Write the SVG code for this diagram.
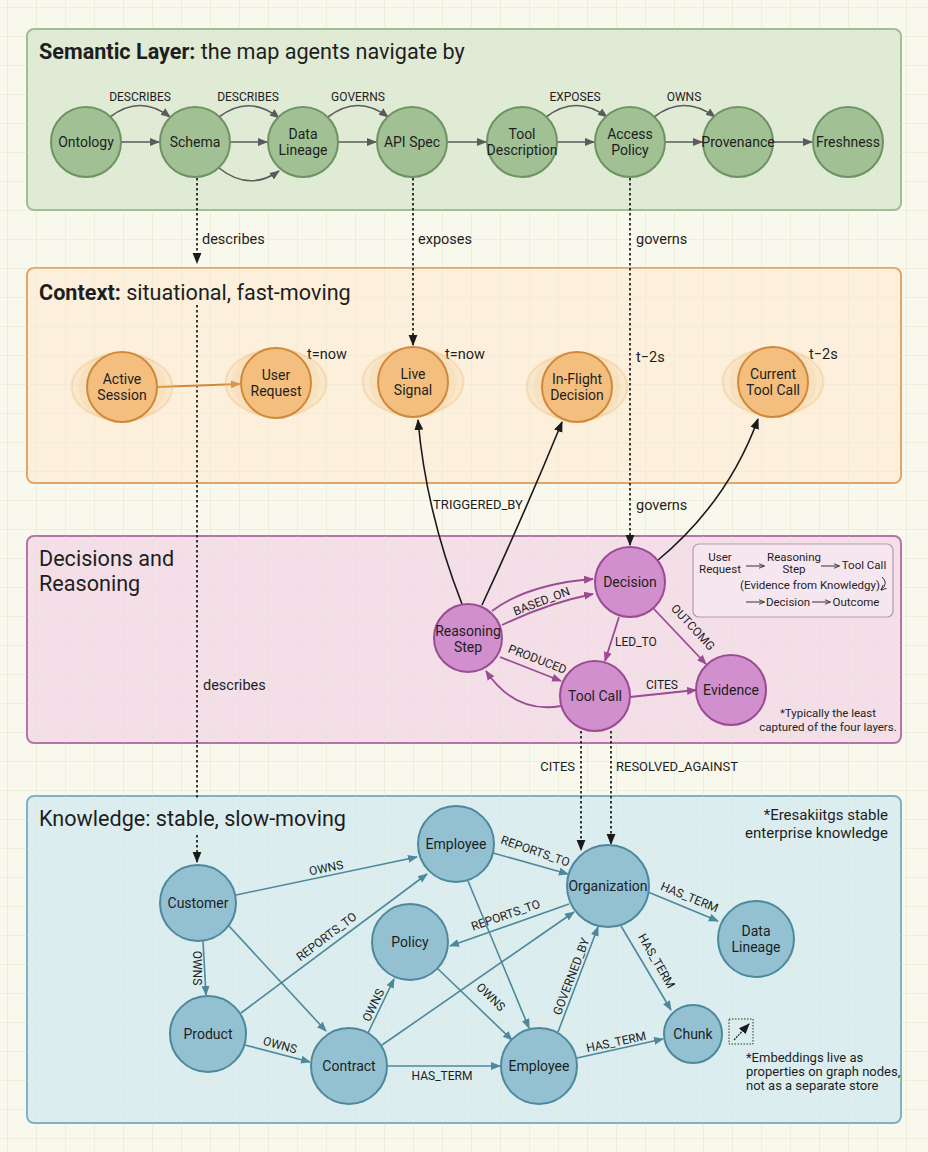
<svg xmlns="http://www.w3.org/2000/svg" width="928" height="1152" viewBox="0 0 928 1152">
<defs>
<pattern id="grid" width="29" height="29" patternUnits="userSpaceOnUse" x="7" y="7">
<path d="M29,0 L0,0 L0,29" fill="none" stroke="#e4e3cf" stroke-width="1"/>
</pattern>
<marker id="ag" viewBox="0 0 10 10" refX="9" refY="5" markerWidth="10" markerHeight="10" markerUnits="userSpaceOnUse" orient="auto"><path d="M0,1 L10,5 L0,9 z" fill="#5b5b5b"/></marker>
<marker id="ao" viewBox="0 0 10 10" refX="9" refY="5" markerWidth="10" markerHeight="10" markerUnits="userSpaceOnUse" orient="auto"><path d="M0,1 L10,5 L0,9 z" fill="#d2893a"/></marker>
<marker id="ak" viewBox="0 0 10 10" refX="9" refY="5" markerWidth="11" markerHeight="11" markerUnits="userSpaceOnUse" orient="auto"><path d="M0,1 L10,5 L0,9 z" fill="#1a1a1a"/></marker>
<marker id="ap" viewBox="0 0 10 10" refX="9" refY="5" markerWidth="10" markerHeight="10" markerUnits="userSpaceOnUse" orient="auto"><path d="M0,1 L10,5 L0,9 z" fill="#9a4b93"/></marker>
<marker id="ab" viewBox="0 0 10 10" refX="9" refY="5" markerWidth="10" markerHeight="10" markerUnits="userSpaceOnUse" orient="auto"><path d="M0,1 L10,5 L0,9 z" fill="#4e889d"/></marker>
<marker id="al" viewBox="0 0 10 10" refX="9" refY="5" markerWidth="6" markerHeight="6" markerUnits="userSpaceOnUse" orient="auto"><path d="M0,1 L10,5 L0,9" fill="none" stroke="#333" stroke-width="1.5"/></marker>
</defs>
<style>
text{font-family:Roboto,"Liberation Sans",sans-serif;fill:#1e1e1e}
.title{font-size:21.6px}
.b{font-weight:bold}
.nl{font-size:14px;text-anchor:middle}
.el{font-size:12px;text-anchor:middle}
.xl{font-size:13px}
.note{font-size:14.5px}
.lg{font-size:11.5px;text-anchor:middle}
.gn{fill:#a1c194;stroke:#6f9264;stroke-width:2}
.on{fill:#f4bf7e;stroke:#cf893b;stroke-width:2}
.pn{fill:#d28fcd;stroke:#9a4b93;stroke-width:2}
.bn{fill:#93c1d2;stroke:#4e889d;stroke-width:2}
.halo{fill:#f4bf7e;opacity:0.16}
.halo2{fill:none;stroke:#f0b878;stroke-width:1.5;opacity:0.35}
.eg{fill:none;stroke:#5b5b5b;stroke-width:1.6;marker-end:url(#ag)}
.eo{fill:none;stroke:#d2893a;stroke-width:1.8;marker-end:url(#ao)}
.ek{fill:none;stroke:#1a1a1a;stroke-width:1.6;marker-end:url(#ak)}
.ed{fill:none;stroke:#1a1a1a;stroke-width:1.7;stroke-dasharray:2.5 2.5}
.edm{marker-end:url(#ak)}
.ep{fill:none;stroke:#9a4b93;stroke-width:1.8;marker-end:url(#ap)}
.eb{fill:none;stroke:#4e889d;stroke-width:1.6;marker-end:url(#ab)}
.la{fill:none;stroke:#333;stroke-width:1;marker-end:url(#al)}
</style>
<rect width="928" height="1152" fill="#f9f8ec"/>
<rect width="928" height="1152" fill="url(#grid)"/>

<g id="panels">
<rect x="27" y="29" width="874" height="181" rx="7" fill="#dce8d1" fill-opacity="0.88" stroke="#9fbf92" stroke-width="2"/>
<rect x="27" y="268" width="874" height="215" rx="7" fill="#fdeed9" fill-opacity="0.85" stroke="#e3a565" stroke-width="2"/>
<rect x="27" y="536" width="874" height="207" rx="7" fill="#f3d9e8" fill-opacity="0.85" stroke="#b673a8" stroke-width="2"/>
<rect x="27" y="796" width="874" height="327" rx="7" fill="#d6ebee" fill-opacity="0.85" stroke="#7eb1c1" stroke-width="2"/>
<rect x="27" y="29" width="874" height="181" rx="7" fill="url(#grid)" opacity="0.6"/>
<rect x="27" y="268" width="874" height="215" rx="7" fill="url(#grid)" opacity="0.6"/>
<rect x="27" y="536" width="874" height="207" rx="7" fill="url(#grid)" opacity="0.6"/>
<rect x="27" y="796" width="874" height="327" rx="7" fill="url(#grid)" opacity="0.6"/>
<text class="title" x="39" y="59"><tspan class="b">Semantic Layer:</tspan> the map agents navigate by</text>
<text class="title" x="39" y="300"><tspan class="b">Context:</tspan> situational, fast-moving</text>
<text class="title" x="39" y="566">Decisions and</text>
<text class="title" x="39" y="591">Reasoning</text>
<text class="title" x="39" y="826">Knowledge: stable, slow-moving</text>
</g>

<g id="connectors">
<!-- semantic -->
<path class="eg" d="M121,142 L159,142"/>
<path class="eg" d="M230,142 L267,142"/>
<path class="eg" d="M338,142 L376,142"/>
<path class="eg" d="M447,142 L486,142"/>
<path class="eg" d="M557,142 L594,142"/>
<path class="eg" d="M665,142 L702,142"/>
<path class="eg" d="M773,142 L812,142"/>
<path class="eg" d="M110,117 Q140,94 170,117"/>
<path class="eg" d="M219,117 Q249,94 279,118"/>
<path class="eg" d="M328,117 Q358,94 388,117"/>
<path class="eg" d="M546,117 Q576,94 607,117"/>
<path class="eg" d="M654,117 Q684,94 715,117"/>
<path class="eg" d="M219,168 Q249,192 279,171"/>
<text class="el" x="140" y="101">DESCRIBES</text>
<text class="el" x="248" y="101">DESCRIBES</text>
<text class="el" x="358" y="101">GOVERNS</text>
<text class="el" x="575" y="101">EXPOSES</text>
<text class="el" x="684" y="101">OWNS</text>

<!-- dotted cross-layer -->
<path class="ed edm" d="M197,178 L197,263"/>
<path class="ed" d="M197,305 L197,800"/>
<path class="ed edm" d="M197,835 L197,862"/>
<path class="ed edm" d="M413,178 L413,345"/>
<path class="ed edm" d="M630,178 L630,545"/>
<path class="ed edm" d="M581,731 L581,850"/>
<path class="ed edm" d="M611,731 L611,844"/>
<text class="note" x="202" y="244">describes</text>
<text class="note" x="418" y="244">exposes</text>
<text class="note" x="636" y="244">governs</text>
<text class="note" x="636" y="362">t−2s</text>
<text class="note" x="636" y="510">governs</text>
<text class="note" x="203" y="690">describes</text>
<text class="xl" x="575" y="771" style="text-anchor:end">CITES</text>
<text class="xl" x="616" y="771" style="text-anchor:start">RESOLVED_AGAINST</text>

<!-- context -->
<path class="eo" d="M157,387 L240,384"/>
<text class="note" x="307" y="359">t=now</text>
<text class="note" x="445" y="359">t=now</text>
<text class="note" x="809" y="359">t−2s</text>

<!-- decisions to context -->
<path class="ek" d="M462,604 Q426,512 418,420"/>
<path class="ek" d="M482,605 Q526,510 562,422"/>
<path class="ek" d="M657,561 Q728,502 758,419"/>
<text class="xl" x="478" y="509" style="text-anchor:middle">TRIGGERED_BY</text>

<!-- decisions -->
<path class="ep" d="M492,611 Q528,584 593,579"/>
<path class="ep" d="M502,625 Q548,603 593,594"/>
<text class="el" transform="translate(543,605) rotate(-21)">BASED_ON</text>
<path class="ep" d="M500,657 L561,681"/>
<text class="el" transform="translate(536,663) rotate(21)">PRODUCED</text>
<path class="ep" d="M561,706 Q515,714 486,671"/>
<path class="ep" d="M619,617 L605,661"/>
<text class="el" x="615" y="646" style="text-anchor:start">LED_TO</text>
<path class="ep" d="M653,608 L706,664"/>
<text class="el" transform="translate(690,630) rotate(47)">OUTCOMG</text>
<path class="ep" d="M630,697 L696,690"/>
<text class="el" x="662" y="689">CITES</text>

<!-- knowledge -->
<path class="eb" d="M236,895 L417,857"/>
<text class="el" transform="translate(327,872) rotate(-12)">OWNS</text>
<path class="eb" d="M203,941 L206,995"/>
<text class="el" transform="translate(193,968) rotate(90)">OWNS</text>
<path class="eb" d="M229,926 L326,1031"/>
<path class="eb" d="M241,1013 L427,874"/>
<text class="el" transform="translate(329,940) rotate(-37)">REPORTS_TO</text>
<path class="eb" d="M245,1045 L310,1062"/>
<text class="el" transform="translate(279,1049) rotate(15)">OWNS</text>
<path class="eb" d="M368,1033 L394,979"/>
<text class="el" transform="translate(377,1007) rotate(-64)">OWNS</text>
<path class="eb" d="M382,1045 L574,912"/>
<path class="eb" d="M387,1066 L500,1066"/>
<text class="el" x="442" y="1080">HAS_TERM</text>
<path class="eb" d="M493,853 L568,874"/>
<text class="el" transform="translate(534,855) rotate(19)">REPORTS_TO</text>
<path class="eb" d="M569,904 L450,946"/>
<text class="el" transform="translate(507,919) rotate(-19)">REPORTS_TO</text>
<path class="eb" d="M468,881 L529,1028"/>
<path class="eb" d="M437,968 L512,1040"/>
<text class="el" transform="translate(488,1000) rotate(44)">OWNS</text>
<path class="eb" d="M558,1032 L598,927"/>
<text class="el" transform="translate(575,978) rotate(-69)">GOVERNED_BY</text>
<path class="eb" d="M648,892 L718,921"/>
<text class="el" transform="translate(688,901) rotate(22)">HAS_TERM</text>
<path class="eb" d="M621,926 L671,1010"/>
<text class="el" transform="translate(653,963) rotate(60)">HAS_TERM</text>
<path class="eb" d="M577,1058 L663,1039"/>
<text class="el" transform="translate(617,1046) rotate(-12)">HAS_TERM</text>
</g>

<!-- semantic nodes -->
<g id="n-ontology"><circle class="gn" cx="86" cy="142" r="35"/><text class="nl" x="86" y="147">Ontology</text></g>
<g id="n-schema"><circle class="gn" cx="195" cy="142" r="35"/><text class="nl" x="195" y="147">Schema</text></g>
<g id="n-datalineage"><circle class="gn" cx="303" cy="142" r="35"/><text class="nl" x="303" y="139">Data</text><text class="nl" x="303" y="155">Lineage</text></g>
<g id="n-apispec"><circle class="gn" cx="412" cy="142" r="35"/><text class="nl" x="412" y="147">API Spec</text></g>
<g id="n-tooldesc"><circle class="gn" cx="522" cy="142" r="35"/><text class="nl" x="522" y="139">Tool</text><text class="nl" x="522" y="155">Description</text></g>
<g id="n-accesspolicy"><circle class="gn" cx="630" cy="142" r="35"/><text class="nl" x="630" y="139">Access</text><text class="nl" x="630" y="155">Policy</text></g>
<g id="n-provenance"><circle class="gn" cx="738" cy="142" r="35"/><text class="nl" x="738" y="147">Provenance</text></g>
<g id="n-freshness"><circle class="gn" cx="848" cy="142" r="35"/><text class="nl" x="848" y="147">Freshness</text></g>

<!-- context nodes -->
<g id="n-activesession"><ellipse class="halo" cx="122" cy="387" rx="52" ry="35"/><ellipse class="halo" cx="122" cy="387" rx="44" ry="36"/><ellipse class="halo2" cx="122" cy="387" rx="50" ry="33"/><circle class="on" cx="122" cy="387" r="35"/><text class="nl" x="122" y="384">Active</text><text class="nl" x="122" y="400">Session</text></g>
<g id="n-userrequest"><ellipse class="halo" cx="276" cy="383" rx="52" ry="35"/><ellipse class="halo" cx="276" cy="383" rx="44" ry="36"/><ellipse class="halo2" cx="276" cy="383" rx="50" ry="33"/><circle class="on" cx="276" cy="383" r="35"/><text class="nl" x="276" y="380">User</text><text class="nl" x="276" y="396">Request</text></g>
<g id="n-livesignal"><ellipse class="halo" cx="413" cy="382" rx="52" ry="35"/><ellipse class="halo" cx="413" cy="382" rx="44" ry="36"/><ellipse class="halo2" cx="413" cy="382" rx="50" ry="33"/><circle class="on" cx="413" cy="382" r="35"/><text class="nl" x="413" y="379">Live</text><text class="nl" x="413" y="395">Signal</text></g>
<g id="n-inflight"><ellipse class="halo" cx="577" cy="387" rx="52" ry="35"/><ellipse class="halo" cx="577" cy="387" rx="44" ry="36"/><ellipse class="halo2" cx="577" cy="387" rx="50" ry="33"/><circle class="on" cx="577" cy="387" r="35"/><text class="nl" x="577" y="384">In-Flight</text><text class="nl" x="577" y="400">Decision</text></g>
<g id="n-currenttool"><ellipse class="halo" cx="773" cy="382" rx="52" ry="35"/><ellipse class="halo" cx="773" cy="382" rx="44" ry="36"/><ellipse class="halo2" cx="773" cy="382" rx="50" ry="33"/><circle class="on" cx="773" cy="382" r="35"/><text class="nl" x="773" y="379">Current</text><text class="nl" x="773" y="395">Tool Call</text></g>

<!-- decision nodes -->
<g id="n-reasoning"><circle class="pn" cx="468" cy="638" r="34"/><text class="nl" x="468" y="636">Reasoning</text><text class="nl" x="468" y="652">Step</text></g>
<g id="n-decision"><circle class="pn" cx="630" cy="582" r="35"/><text class="nl" x="630" y="587">Decision</text></g>
<g id="n-toolcall"><circle class="pn" cx="595" cy="696" r="35"/><text class="nl" x="595" y="701">Tool Call</text></g>
<g id="n-evidence"><circle class="pn" cx="731" cy="690" r="35"/><text class="nl" x="731" y="695">Evidence</text></g>

<g id="legend">
<rect x="693" y="544" width="200" height="73" rx="6" fill="#f6e6f0" stroke="#b39bad" stroke-width="1.2"/>
<text class="lg" x="720" y="561">User</text>
<text class="lg" x="720" y="573">Request</text>
<path class="la" d="M746,566 L764,566"/>
<text class="lg" x="794" y="561">Reasoning</text>
<text class="lg" x="794" y="573">Step</text>
<path class="la" d="M821,566 L839,566"/>
<text class="lg" x="864" y="569">Tool Call</text>
<text class="lg" x="810" y="589">(Evidence from Knowledgy)</text>
<path class="la" d="M882,577 Q889,583 881,590"/>
<path class="la" d="M746,602 L764,602"/>
<text class="lg" x="788" y="606">Decision</text>
<path class="la" d="M812,602 L830,602"/>
<text class="lg" x="856" y="606">Outcome</text>
</g>
<text class="lg" x="828" y="717">*Typically the least</text>
<text class="lg" x="828" y="731">captured of the four layers.</text>

<!-- knowledge nodes -->
<g id="n-customer"><circle class="bn" cx="198" cy="903" r="38"/><text class="nl" x="198" y="908">Customer</text></g>
<g id="n-employee1"><circle class="bn" cx="456" cy="844" r="38"/><text class="nl" x="456" y="849">Employee</text></g>
<g id="n-organization"><circle class="bn" cx="608" cy="886" r="41"/><text class="nl" x="608" y="891">Organization</text></g>
<g id="n-policy"><circle class="bn" cx="410" cy="942" r="38"/><text class="nl" x="410" y="947">Policy</text></g>
<g id="n-datalineage2"><circle class="bn" cx="756" cy="939" r="38"/><text class="nl" x="756" y="936">Data</text><text class="nl" x="756" y="952">Lineage</text></g>
<g id="n-product"><circle class="bn" cx="208" cy="1034" r="38"/><text class="nl" x="208" y="1039">Product</text></g>
<g id="n-contract"><circle class="bn" cx="349" cy="1066" r="38"/><text class="nl" x="349" y="1071">Contract</text></g>
<g id="n-employee2"><circle class="bn" cx="539" cy="1066" r="38"/><text class="nl" x="539" y="1071">Employee</text></g>
<g id="n-chunk"><circle class="bn" cx="693" cy="1034" r="29"/><text class="nl" x="693" y="1039">Chunk</text></g>

<g id="embed-icon">
<rect x="729" y="1019" width="24" height="25" fill="none" stroke="#333" stroke-width="1" stroke-dasharray="1.5 1.5"/>
<path d="M734,1040 L749,1024" fill="none" stroke="#333" stroke-width="1.4" stroke-dasharray="2 1" marker-end="url(#ak)"/>
</g>
<text x="746" y="1062" style="font-size:13px">*Embeddings live as</text>
<text x="746" y="1076" style="font-size:13px">properties on graph nodes,</text>
<text x="746" y="1090" style="font-size:13px">not as a separate store</text>
<text x="888" y="820" style="font-size:15px;text-anchor:end">*Eresakiitgs stable</text>
<text x="888" y="838" style="font-size:15px;text-anchor:end">enterprise knowledge</text>
</svg>
